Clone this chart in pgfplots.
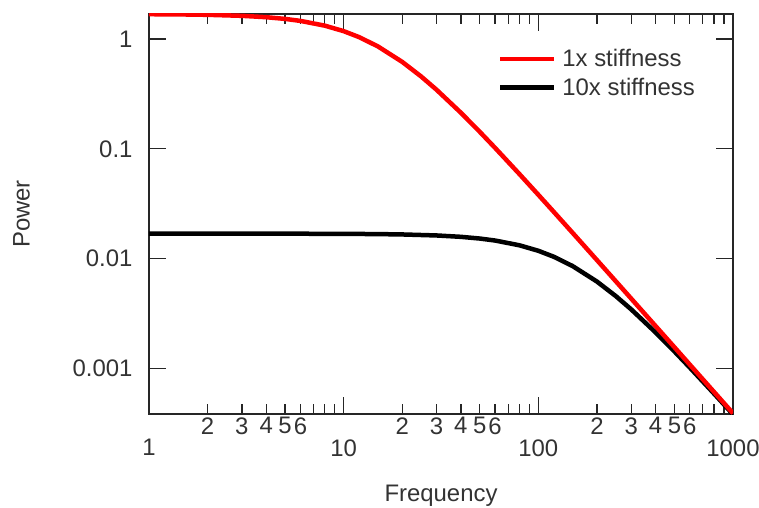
\documentclass[border=0pt]{standalone}
\usepackage{pgfplots}
\pgfplotsset{compat=1.18}
\usepackage{fontspec}
\setmainfont{Liberation Sans}
\definecolor{txt}{gray}{0.2}
\begin{document}
\begin{tikzpicture}
\begin{axis}[
  scale only axis,
  width=584bp, height=400bp,
  xmode=log, ymode=log,
  xmin=1, xmax=1000, ymin=3.85e-4, ymax=1.69,
  axis line style={line width=1.3bp, black!85},
  every tick/.style={line width=1.3bp, black!85},
  major tick length=17bp, minor tick length=10bp,
  tick align=inside,
  xtick={1,10,100,1000}, xticklabels={1,10,100,1000},
  minor xtick={2,3,4,5,6,7,8,9,20,30,40,50,60,70,80,90,200,300,400,500,600,700,800,900},
  ytick={0.001,0.01,0.1,1}, yticklabels={0.001,0.01,0.1,1},
  yminorticks=false,
  extra x ticks={2,3,4,5,6,20,30,40,50,60,200,300,400,500,600},
  extra x tick labels={2,3,4,5,6,2,3,4,5,6,2,3,4,5,6},
  extra x tick style={major tick length=0bp, tick style={draw=none},
     ticklabel style={font=\fontsize{13.5}{15}\selectfont, text=txt, yshift=22bp}},
  xticklabel style={font=\fontsize{24}{28}\selectfont, text=txt, yshift=-22bp},
  yticklabel style={font=\fontsize{24}{28}\selectfont, text=txt, xshift=-13bp},
  xlabel={Frequency}, ylabel={Power},
  label style={font=\fontsize{24}{28}\selectfont, text=txt},
  xlabel style={yshift=-22bp},
  ylabel style={yshift=36bp},
  legend style={draw=none, fill=none, at={(0.592,0.922)}, anchor=north west,
     font=\fontsize{24}{28}\selectfont, text=txt, row sep=6bp},
  legend cell align=left,
  legend image code/.code={\draw[#1, line width=4.5bp] (0bp,0bp) -- (54bp,0bp); \path (58bp,0bp);},
  reverse legend,
]
\addplot[black, line width=4.5bp] coordinates {
(1,0.016899) (2,0.016897) (3,0.016893) (5,0.016882) (10,0.016827) (15,0.016737)
(20,0.016612) (30,0.016266) (40,0.015805) (50,0.015250) (60,0.014622) (80,0.013234)
(100,0.011795) (120,0.010411) (150,0.008562) (200,0.006187) (250,0.004561)
(300,0.003452) (400,0.002132) (500,0.0014297) (600,0.0010192) (800,0.00058883)
(1000,0.00038164)};
\addlegendentry{10x stiffness}
\addplot[red, line width=4.5bp] coordinates {
(1,1.6827) (1.5,1.6737) (2,1.6612) (3,1.6266) (4,1.5805) (5,1.5250) (6,1.4622)
(8,1.3234) (10,1.1795) (12,1.0411) (15,0.8562) (20,0.6187) (25,0.4561) (30,0.3452)
(40,0.2132) (50,0.14297) (60,0.10192) (80,0.058883) (100,0.038164) (120,0.026687)
(150,0.017177) (200,0.0097052) (250,0.0062242) (300,0.0043275) (400,0.0024369)
(500,0.0015619) (600,0.0010839) (800,0.00060988) (1000,0.00039045)};
\addlegendentry{1x stiffness}
\end{axis}
\pgfresetboundingbox
\path (current axis.south west) ++(-149bp,-94bp) rectangle ++(759bp,508bp);
\end{tikzpicture}
\end{document}
